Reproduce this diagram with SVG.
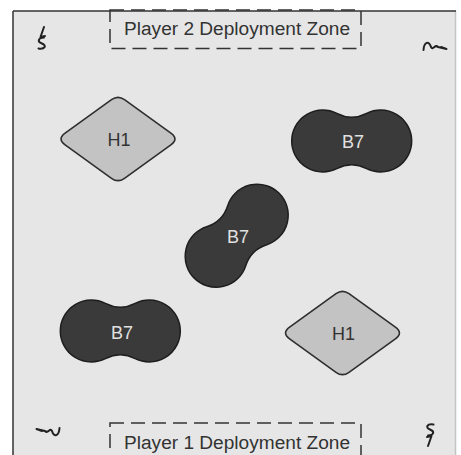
<svg xmlns="http://www.w3.org/2000/svg" width="461" height="455" viewBox="0 0 461 455">
<style>
.lbl{font-family:"Liberation Sans",Arial,sans-serif;font-size:18px;text-anchor:middle}
.zone{fill:none;stroke:#333;stroke-width:1.5;stroke-dasharray:14 7}
.b7{fill:#3a3a3a;stroke:#1e1e1e;stroke-width:1.5}
.h1{fill:#c3c3c3;stroke:#2e2e2e;stroke-width:1.6}
.sq{fill:none;stroke:#222;stroke-width:2;stroke-linecap:round;stroke-linejoin:round}
</style>
<defs>
<path id="b7shape" d="M-14.86,-27.59 A32.57,32.57 0 0 0 14.86,-27.59 A31,31 0 1 1 14.86,27.59 A32.57,32.57 0 0 0 -14.86,27.59 A31,31 0 1 1 -14.86,-27.59 Z"/>
<path id="h1shape" d="M-52.89,-5.85 L-6.49,-39.32 Q0,-44 6.49,-39.32 L52.89,-5.85 Q61,0 52.89,5.85 L6.49,39.32 Q0,44 -6.49,39.32 L-52.89,5.85 Q-61,0 -52.89,-5.85 Z"/>
<path id="sqV" d="M44,27 L40.5,37 L45,36 M44,37.5 C38,38 37,41.5 42,43.5 C47,45.5 45,49.5 38.5,48.5"/>
<path id="sqH" d="M423.5,50 C424,42 429,40 431,47 C433,51 435,43.5 438,47 L446.5,49 L441,47"/>
</defs>
<g id="board">
<rect x="13" y="11" width="443" height="450" fill="#e6e6e6"/>
<line x1="455.5" y1="11" x2="455.5" y2="455" stroke="#c4c4c4" stroke-width="1.5"/>
<line x1="13" y1="11" x2="456" y2="11" stroke="#333" stroke-width="1.5"/>
<line x1="13" y1="11" x2="13" y2="455" stroke="#333" stroke-width="1.5"/>
</g>
<g id="zone2">
<rect class="zone" x="110" y="10" width="251" height="38.5"/>
<text class="lbl" x="237" y="35" fill="#333" textLength="226" lengthAdjust="spacingAndGlyphs">Player 2 Deployment Zone</text>
</g>
<g id="zone1">
<rect class="zone" x="110" y="423" width="251" height="45"/>
<text class="lbl" x="237" y="449" fill="#333" textLength="226" lengthAdjust="spacingAndGlyphs">Player 1 Deployment Zone</text>
</g>
<g id="markers">
<use href="#sqV" class="sq"/>
<use href="#sqH" class="sq"/>
<use href="#sqV" class="sq" transform="translate(472,473) rotate(180)"/>
<use href="#sqH" class="sq" transform="translate(483,478) rotate(180)"/>
</g>
<g id="h1-top">
<use href="#h1shape" class="h1" transform="translate(118,139)"/>
<text class="lbl" x="119" y="146" fill="#333">H1</text>
</g>
<g id="b7-top">
<use href="#b7shape" class="b7" transform="translate(351.7,141)"/>
<text class="lbl" x="353" y="148" fill="#e0e0e0">B7</text>
</g>
<g id="b7-mid">
<use href="#b7shape" class="b7" transform="translate(236.7,235.7) rotate(-45)"/>
<text class="lbl" x="238" y="243" fill="#e0e0e0">B7</text>
</g>
<g id="b7-bottom">
<use href="#b7shape" class="b7" transform="translate(120.3,331)"/>
<text class="lbl" x="122" y="339" fill="#e0e0e0">B7</text>
</g>
<g id="h1-bottom">
<use href="#h1shape" class="h1" transform="translate(342.5,333)"/>
<text class="lbl" x="343.5" y="340" fill="#333">H1</text>
</g>
<g id="connectors"/>
</svg>
